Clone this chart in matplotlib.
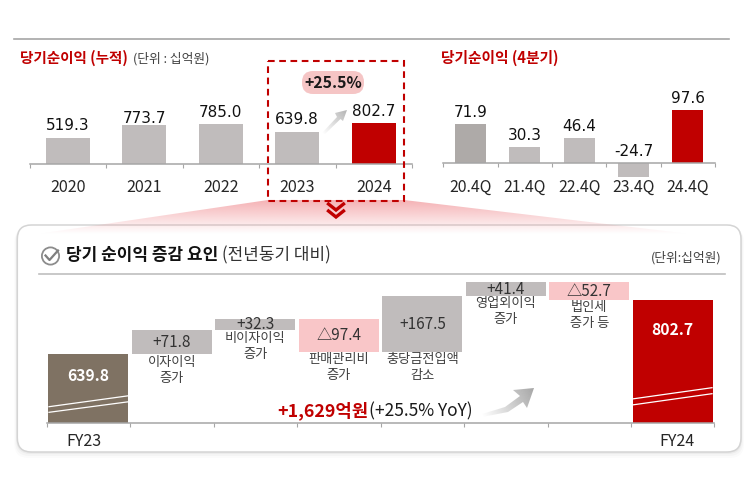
import matplotlib
matplotlib.use('Agg')
import matplotlib.pyplot as plt
import numpy as np
from matplotlib.patches import FancyBboxPatch, Polygon, Rectangle, Circle

plt.rcParams['font.family'] = ['Noto Sans CJK KR', 'DejaVu Sans']

W, H = 751, 478

# ---- data ----
years = ['2020', '2021', '2022', '2023', '2024']
annual_values = [519.3, 773.7, 785.0, 639.8, 802.7]

quarters = ['20.4Q', '21.4Q', '22.4Q', '23.4Q', '24.4Q']
quarter_values = [71.9, 30.3, 46.4, -24.7, 97.6]

fy23_value = 639.8
fy24_value = 802.7
bridge_values = [71.8, 32.3, -97.4, 167.5, 41.4, -52.7]
bridge_texts = ['+71.8', '+32.3', '△97.4', '+167.5', '+41.4', '△52.7']
bridge_labels = ['이자이익\n증가', '비이자이익\n증가', '판매관리비\n증가',
                 '충당금전입액\n감소', '영업외이익\n증가', '법인세\n증가 등']

RED = '#C00000'
GREY = '#C0BCBC'
DARK_GREY = '#AEAAA8'
PINK = '#F9C6C8'
BROWN = '#7F7263'
AXIS = '#A6A6A6'
TXT = '#262626'
NUM_FONT = ['DejaVu Sans']


def px_axes(fig, x0, x1, y0, y1, zorder=1):
    """axes placed by pixel box (y measured from the top)"""
    ax = fig.add_axes([x0 / W, 1 - y1 / H, (x1 - x0) / W, (y1 - y0) / H], zorder=zorder)
    ax.patch.set_alpha(0)
    return ax


def gradient_fill(ax, poly, start, end, color, a0, a1):
    """fill polygon with a colour fading along start -> end"""
    xs = [p[0] for p in poly]
    ys = [p[1] for p in poly]
    ext = [min(xs), max(xs), max(ys), min(ys)]
    gx, gy = np.meshgrid(np.linspace(ext[0], ext[1], 200), np.linspace(ext[3], ext[2], 200))
    d = np.array(end) - np.array(start)
    t = ((gx - start[0]) * d[0] + (gy - start[1]) * d[1]) / (d @ d)
    t = np.clip(t, 0, 1)
    rgba = np.zeros(gx.shape + (4,))
    rgba[..., :3] = matplotlib.colors.to_rgb(color)
    rgba[..., 3] = a0 + (a1 - a0) * t
    im = ax.imshow(rgba, extent=ext, origin='upper', aspect='auto', interpolation='bilinear', zorder=3)
    patch = Polygon(poly, closed=True, transform=ax.transData, fc='none', ec='none')
    ax.add_patch(patch)
    im.set_clip_path(patch)


def style_bar_axis(ax, labels, size, pad):
    n = len(labels)
    ax.set_xlim(-0.5, n - 0.5)
    for s in ['top', 'left', 'right']:
        ax.spines[s].set_visible(False)
    ax.spines['bottom'].set_color(AXIS)
    ax.spines['bottom'].set_linewidth(1.1)
    ax.spines['bottom'].set_position(('data', 0))
    ax.set_yticks([])
    ax.set_xticks(np.arange(n + 1) - 0.5)
    ax.set_xticklabels([])
    ax.tick_params(axis='x', which='major', length=3, width=0.8, color=AXIS)
    ax.set_xticks(np.arange(n), minor=True)
    ax.set_xticklabels(labels, minor=True, fontsize=size, color=TXT)
    ax.tick_params(axis='x', which='minor', length=0, pad=pad)


fig = plt.figure(figsize=(W / 100, H / 100), dpi=100, facecolor='white')

# ---- background layer: rule, panel, funnel ----
bg = px_axes(fig, 0, W, 0, H, zorder=0)
bg.set_axis_off()
bg.plot([14, 729], [38.7, 38.7], color='#A6A6A6', lw=1.2)

for i, a in enumerate([0.015, 0.025, 0.035]):
    off = 3 - i
    bg.add_patch(FancyBboxPatch((17.3 + 12 - off, 225 + 12 + off), 723.7 - 24 + 2 * off, 227 - 24 + off,
                                boxstyle='round,pad=12,rounding_size=14', fc='black', ec='none', alpha=a))
bg.add_patch(FancyBboxPatch((17.3 + 12, 225 + 12), 723.7 - 24, 227 - 24,
                            boxstyle='round,pad=12,rounding_size=14', fc='white', ec='#D4D4D4', lw=1.1))
funnel = [(268, 200), (404, 200), (741, 240), (10, 238)]
gradient_fill(bg, funnel, (0, 200), (0, 234), '#EE7B80', 0.6, 0.0)

bg.plot([39, 725], [274, 274], color='#BFBFBF', lw=1.2)
bg.add_patch(Circle((50.5, 256), 8.6, fc='none', ec='#8C8C8C', lw=1.3))
bg.plot([45.5, 49.5, 58], [255.5, 260, 250.5], color='#7F7F7F', lw=1.6)
bg.set_xlim(0, W)
bg.set_ylim(H, 0)

# ---- annual bars ----
ax1 = px_axes(fig, 29.5, 412, 60, 200)
ax1.bar(range(5), annual_values, width=0.575, color=[GREY, GREY, GREY, GREY, RED])
ax1.set_ylim(-730, 2070)
style_bar_axis(ax1, years, 11.6, 11)
label_dy = [3, -1, 3, 3, 3]
for i, v in enumerate(annual_values):
    ax1.annotate(f'{v:.1f}', (i, v), xytext=(0, label_dy[i]), textcoords='offset points', ha='center',
                 va='bottom', fontsize=11, color='#111111', family=NUM_FONT)

# ---- quarterly bars ----
ax2 = px_axes(fig, 443.3, 715, 60, 200)
ax2.bar(range(5), quarter_values, width=0.57, color=[DARK_GREY, GREY, GREY, GREY, RED])
ax2.set_ylim(-66.4, 188.2)
style_bar_axis(ax2, quarters, 11.4, 11)
for i, v in enumerate(quarter_values):
    ax2.annotate(f'{v:.1f}', (i, max(v, 0)), xytext=(0, 3), textcoords='offset points',
                 ha='center', va='bottom', fontsize=11, color='#111111', family=NUM_FONT)

# ---- bridge ----
ax3 = px_axes(fig, 46.7, 714.5, 270, 423.3)
ax3.set_ylim(433, 433 + 153.3 / 0.334)
ax3.bar([0, 7], [fy23_value - 433, fy24_value - 433], bottom=433, width=0.958, color=[BROWN, RED])
running = fy23_value
for i, v in enumerate(bridge_values):
    lo = min(running, running + v)
    ax3.bar(i + 1, abs(v), bottom=lo, width=0.958, color=GREY if v > 0 else PINK)
    ax3.text(i + 1, lo + abs(v) / 2, bridge_texts[i], ha='center', va='center', fontsize=11, color='#333333')
    ax3.annotate(bridge_labels[i], (i + 1, lo), xytext=(0, -1), textcoords='offset points', ha='center',
                 va='top', fontsize=9.5, color='#404040', linespacing=1.3)
    running += v
style_bar_axis(ax3, [''] * 8, 10, 3)
ax3.spines['bottom'].set_position(('axes', 0))
ax3.annotate('FY23', (0, 0), xycoords=('data', 'axes fraction'), xytext=(-3, -13), textcoords='offset points',
             ha='center', va='center', fontsize=11.5, color=TXT)
ax3.annotate('FY24', (7, 0), xycoords=('data', 'axes fraction'), xytext=(3, -13), textcoords='offset points',
             ha='center', va='center', fontsize=11.5, color=TXT)
ax3.annotate(f'{fy23_value:.1f}', (0, fy23_value), xytext=(0, -16), textcoords='offset points', ha='center',
             va='center', fontsize=11.3, fontweight='bold', color='white')
ax3.annotate(f'{fy24_value:.1f}', (7, fy24_value), xytext=(0, -22), textcoords='offset points', ha='center',
             va='center', fontsize=11.3, fontweight='bold', color='white')

# ---- top layer: titles, dashed box, pill, arrows ----
fg = px_axes(fig, 0, W, 0, H, zorder=2)
fg.set_axis_off()

fg.text(20, 58, '당기순이익 (누적)', color=RED, fontsize=10.5, fontweight='bold', va='center', ha='left')
fg.text(133, 58.5, '(단위 : 십억원)', color='#404040', fontsize=9.2, va='center', ha='left')
fg.text(441, 58, '당기순이익 (4분기)', color=RED, fontsize=10.6, fontweight='bold', va='center', ha='left')

fg.add_patch(Rectangle((267.5, 60.5), 136.5, 140, fc='none', ec=RED, lw=1.5, ls=(0, (3.2, 2.2))))
fg.add_patch(FancyBboxPatch((313, 82), 40, 1, boxstyle='round,pad=11,rounding_size=11', fc='#F5C5C5', ec='none'))
fg.text(333, 82.5, '+25.5%', color='#1A1A1A', fontsize=11.4, fontweight='bold', ha='center', va='center')

# double chevron
for dy in [0, 7]:
    fg.plot([328.5, 336, 343.5], [204 + dy, 210 + dy, 204 + dy], color=RED, lw=2.4, solid_joinstyle='miter')

gradient_fill(fg, [(322, 133), (337, 117), (335, 113), (347, 110), (343, 121), (340.5, 119), (325, 134)],
              (322, 133), (347, 110), '#B5B5B5', 0.0, 1.0)
gradient_fill(fg, [(482, 414), (505, 407), (520, 396), (513, 390), (534, 388), (527, 408), (523, 402),
                   (508, 412), (482, 417)],
              (482, 415), (534, 388), '#A6A6A6', 0.0, 1.0)

fg.text(66, 255.5, '당기 순이익 증감 요인', color='#111111', fontsize=12.2, fontweight='bold', va='center', ha='left')
fg.text(222, 255.5, '(전년동기 대비)', color='#333333', fontsize=12.2, va='center', ha='left')
fg.text(722, 258, '(단위:십억원)', color='#404040', fontsize=9.2, va='center', ha='right')
fg.text(277, 411, '+1,629억원', color=RED, fontsize=12.8, fontweight='bold', va='center', ha='left')
fg.text(369, 411, '(+25.5% YoY)', color='#1A1A1A', fontsize=12.5, va='center', ha='left')

# white break marks on the two total bars
for x0, x1, y0, y1 in [(49, 129, 406.7, 395.7), (49, 129, 412.3, 401.7),
                       (632, 712, 399, 387.7), (632, 712, 405, 393.7)]:
    fg.plot([x0, x1], [y0, y1], color='white', lw=0.9)

fg.set_xlim(0, W)
fg.set_ylim(H, 0)

fig.savefig('out.png', dpi=100)
